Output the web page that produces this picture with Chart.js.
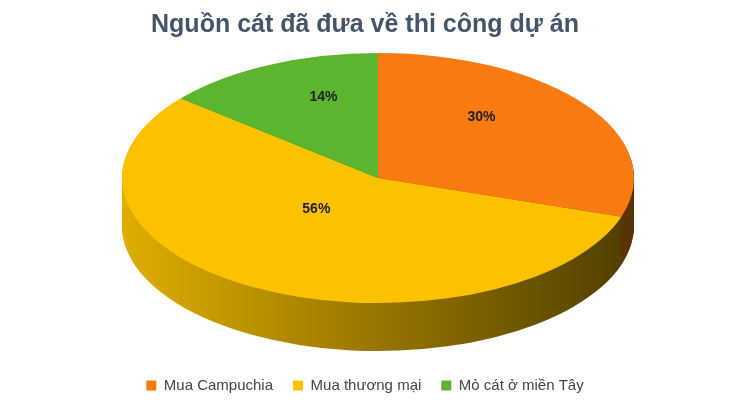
<!DOCTYPE html>
<html>
<head>
<meta charset="utf-8">
<script src="https://cdn.jsdelivr.net/npm/chart.js@4"></script>
<style>
  body { margin: 0; background: #fff; }
  #wrap { width: 730px; height: 403px; }
</style>
</head>
<body>
<div id="wrap"><canvas id="chart"></canvas></div>
<script>
let sources = ["Mua Campuchia", "Mua thương mại", "Mỏ cát ở miền Tây"];
let shares = [30, 56, 14];
let topColors = ["#f97a10", "#fcc200", "#5bb52f"];
let sideLeft = ["#c05a08", "#e0ae00", "#3a7a1c"];
let sideRight = ["#5a3205", "#4e3d00", "#2a5a14"];

// flat pie drawn as a tilted 3D disc
let tilt = {
    id: "tilt",
    beforeDatasetsDraw(chart) {
        let ctx = chart.ctx;
        let arcs = chart.getDatasetMeta(0).data;
        let a0 = arcs[0];
        let R = a0.outerRadius;
        chart.$tilt = { cx: 378, cy: 178, sx: 256 / R, sy: 125 / R, ox: a0.x, oy: a0.y };
        let t = chart.$tilt;
        let depth = 48;
        let grads = sideLeft.map((c, i) => {
            let g = ctx.createLinearGradient(t.ox - R, 0, t.ox + R, 0);
            g.addColorStop(0, c);
            g.addColorStop(1, sideRight[i]);
            return g;
        });
        for (let k = depth; k > 0; k--) {
            ctx.save();
            ctx.translate(t.cx, t.cy + k);
            ctx.scale(t.sx, t.sy);
            ctx.translate(-t.ox, -t.oy);
            arcs.forEach((arc, i) => {
                let p = arc.getProps(["x", "y", "startAngle", "endAngle", "outerRadius"]);
                ctx.beginPath();
                ctx.moveTo(p.x, p.y);
                ctx.arc(p.x, p.y, p.outerRadius, p.startAngle, p.endAngle);
                ctx.closePath();
                ctx.fillStyle = grads[i];
                ctx.fill();
            });
            ctx.restore();
        }
        ctx.save();
        ctx.translate(t.cx, t.cy);
        ctx.scale(t.sx, t.sy);
        ctx.translate(-t.ox, -t.oy);
    },
    afterDatasetsDraw(chart) {
        let ctx = chart.ctx;
        ctx.restore();
        let t = chart.$tilt;
        let arcs = chart.getDatasetMeta(0).data;
        ctx.save();
        ctx.font = "bold 14px 'Liberation Sans', Arial";
        ctx.fillStyle = "#222";
        ctx.textAlign = "center";
        ctx.textBaseline = "middle";
        arcs.forEach((arc, i) => {
            let p = arc.tooltipPosition();
            let x = t.cx + (p.x - t.ox) * t.sx;
            let y = t.cy + (p.y - t.oy) * t.sy - 24;
            ctx.fillText(shares[i] + "%", x, y);
        });
        ctx.restore();
    }
};

new Chart(document.getElementById("chart"), {
    type: "pie",
    data: {
        labels: sources,
        datasets: [{
            data: shares,
            backgroundColor: topColors,
            borderWidth: 0
        }]
    },
    options: {
        responsive: true,
        maintainAspectRatio: false,
        animation: false,
        events: [],
        plugins: {
            title: {
                display: true,
                text: "Nguồn cát đã đưa về thi công dự án",
                color: "#44546a",
                font: { size: 25, weight: "bold", family: "'Liberation Sans', Arial" },
                padding: { top: 10, bottom: 10 }
            },
            legend: {
                position: "bottom",
                labels: {
                    boxWidth: 10,
                    boxHeight: 10,
                    color: "#444",
                    font: { size: 15, family: "'Liberation Sans', Arial" },
                    padding: 20
                }
            },
            tooltip: { enabled: false }
        }
    },
    plugins: [tilt]
});
</script>
</body>
</html>
